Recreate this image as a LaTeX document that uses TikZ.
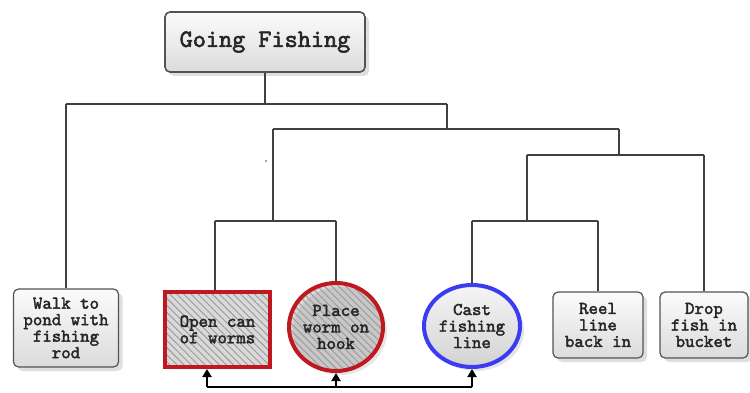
\documentclass[tikz,border=0pt]{standalone}
\usepackage{fontspec}
\newfontfamily\cour{lmmono10-regular.otf}[FakeBold=2.2]
\usetikzlibrary{shapes.geometric,shadows,patterns.meta,arrows.meta}
\definecolor{hred}{HTML}{C01820}
\definecolor{hblue}{HTML}{3A3CF2}
\begin{document}
\begin{tikzpicture}[x=1pt,y=-1pt,
  lbl/.style={align=center, inner sep=0pt, text=black!85, font=\cour\fontsize{18}{16.5}\selectfont},
  gbox/.style={lbl, draw=gray!65!black, line width=1.2pt, rounded corners=5pt,
     top color=gray!3, bottom color=gray!28,
     drop shadow={shadow xshift=4pt, shadow yshift=-4pt, opacity=0.25}},
  hatch/.style={preaction={fill=gray!30}, pattern={Lines[angle=-45,distance=5pt,line width=0.9pt]}, pattern color=gray!80},
  wire/.style={draw=black!75, line width=1.1pt},
  arr/.style={draw=black, line width=2.2pt, -{Triangle[length=8pt,width=9pt]}}
]
\useasboundingbox (0,0) rectangle (750,393);

% nodes
\node[gbox, minimum width=200, minimum height=60, line width=1.6pt, font=\cour\fontsize{25}{26}\selectfont] (title) at (265,42) {Going Fishing};
\node[gbox, minimum width=105, minimum height=78] (walk) at (66,328) {Walk to\\pond with\\fishing\\rod};
\node[lbl, hatch, draw=hred, line width=4pt, minimum width=105, minimum height=75] (open) at (217.5,329.5) {Open can\\of worms};
\node[lbl, ellipse, hatch, draw=hred, line width=4pt, minimum width=94, minimum height=88,
   drop shadow={shadow xshift=4pt, shadow yshift=-4pt, opacity=0.2}] (place) at (336,327) {Place\\worm on\\hook};
\node[lbl, ellipse, draw=hblue, line width=4pt, minimum width=96, minimum height=82,
   top color=gray!8, bottom color=gray!35,
   drop shadow={shadow xshift=4pt, shadow yshift=-4pt, opacity=0.2}] (cast) at (472,326) {Cast\\fishing\\line};
\node[gbox, minimum width=90, minimum height=66] (reel) at (598,325) {Reel\\line\\back in};
\node[gbox, minimum width=88, minimum height=66] (drop) at (704,325) {Drop\\fish in\\bucket};

% tree junctions
\coordinate (a) at (265,104);
\coordinate (aL) at (66,104);
\coordinate (aR) at (447,104);
\coordinate (bL) at (273,129);
\coordinate (bR) at (619,129);
\coordinate (cL) at (215,221);
\coordinate (cR) at (336,221);
\coordinate (dL) at (527,155);
\coordinate (dR) at (704,155);
\coordinate (eL) at (472,221);
\coordinate (eR) at (598,221);

\path[wire] (title.south) -- (a);
\path[wire] (aL) -- (aR);
\path[wire] (aL) -- (walk.north);
\path[wire] (aR) -- (aR |- bL);
\path[wire] (bL) -- (bR);
\path[wire] (bL) -- (bL |- cL);
\path[wire] (cL) -- (cR);
\path[wire] (cL) -- (cL |- open.north);
\path[wire] (cR) -- (place.north);
\path[wire] (bR) -- (bR |- dL);
\path[wire] (dL) -- (dR);
\path[wire] (dL) -- (dL |- eL);
\path[wire] (eL) -- (eR);
\path[wire] (eL) -- (cast.north);
\path[wire] (eR) -- (reel.north);
\path[wire] (dR) -- (drop.north);
\fill[black!70] (266,161) circle (0.9);

% bottom arrows
\coordinate (p1) at (207,387);
\coordinate (p2) at (336,387);
\coordinate (p3) at (472,387);
\draw[draw=black, line width=2.2pt] (p1) -- (p3);
\draw[arr] (p1) -- (p1 |- open.south);
\draw[arr] (p2) -- (place.south);
\draw[arr] (p3) -- (cast.south);
\end{tikzpicture}
\end{document}
